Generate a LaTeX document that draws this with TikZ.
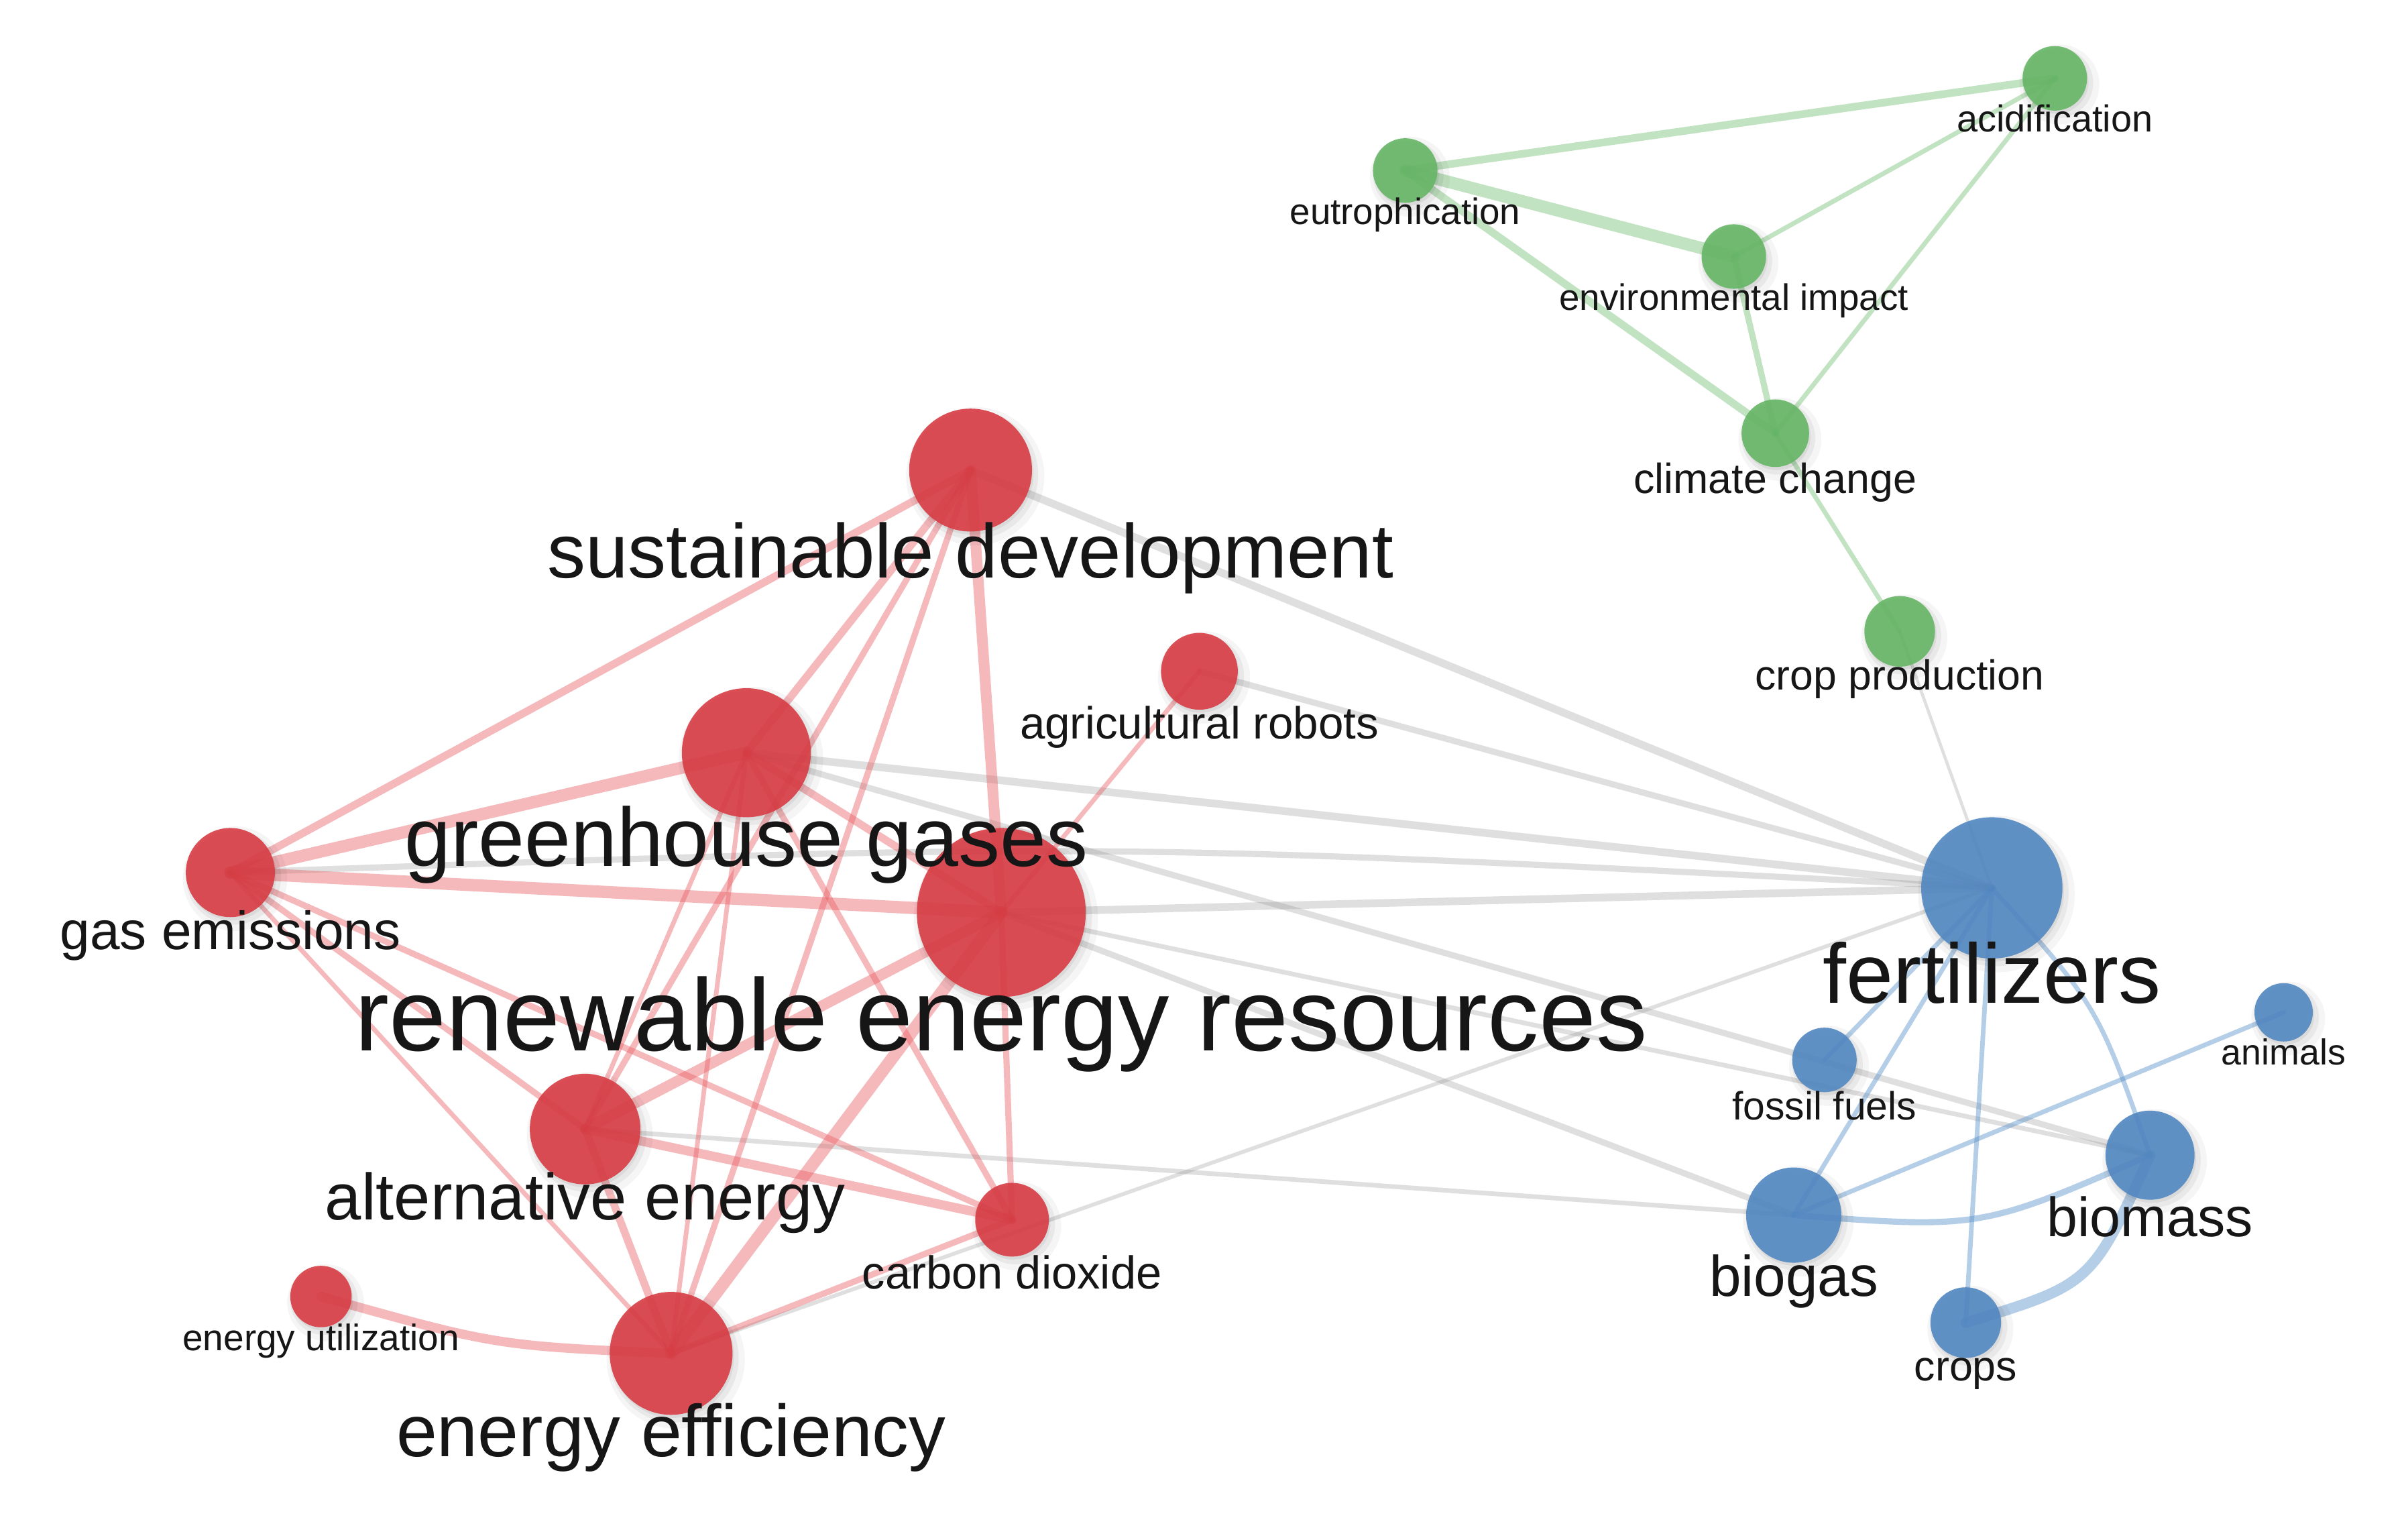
\documentclass[tikz,border=0pt]{standalone}
\usepackage{fontspec}
\setmainfont{Liberation Sans}
\pgfdeclarelayer{bgfill}
\pgfdeclarelayer{edges}
\pgfdeclarelayer{shadow}
\pgfdeclarelayer{fg}
\pgfsetlayers{bgfill,edges,shadow,main,fg}
\definecolor{nred}{RGB}{216,60,68}
\definecolor{ngreen}{RGB}{102,182,102}
\definecolor{nblue}{RGB}{82,136,194}
\definecolor{ered}{RGB}{232,90,96}
\definecolor{egreen}{RGB}{110,190,110}
\definecolor{eblue}{RGB}{80,140,200}
\definecolor{egray}{RGB}{150,150,150}
\definecolor{txt}{RGB}{22,22,22}
\tikzset{
  eRed/.style={draw=ered, draw opacity=0.42, line cap=round},
  eGreen/.style={draw=egreen, draw opacity=0.42, line cap=round},
  eBlue/.style={draw=eblue, draw opacity=0.42, line cap=round},
  eGray/.style={draw=egray, draw opacity=0.3, line cap=round},
  dot/.style={circle, inner sep=0pt, fill opacity=0.9},
  lbl/.style={text=txt, inner sep=0pt, anchor=base},
}
% name, x, y, r, colour, label, font size, baseline y
\newcommand\vnode[8]{%
  \begin{pgfonlayer}{shadow}
    \fill[black, opacity=0.04] (#2+3,#3+4) circle [radius={(#4+5)*1pt}];
    \fill[black, opacity=0.05] (#2+2,#3+3) circle [radius={(#4+2)*1pt}];
    \fill[black, opacity=0.06] (#2+1,#3+2) circle [radius={(#4)*1pt}];
  \end{pgfonlayer}
  \node[dot, fill=#5, minimum size={2*#4*1pt}] (#1) at (#2,#3) {};
  \begin{pgfonlayer}{fg}
    \node[lbl, font=\fontsize{#7}{#7}\selectfont] (#1-l) at (#2,#8) {#6};
  \end{pgfonlayer}
}
\begin{document}
\begin{tikzpicture}[x=1pt,y=-1pt]
\begin{pgfonlayer}{bgfill}
\fill[white] (0,0) rectangle (1568,997);
\end{pgfonlayer}
\useasboundingbox (0,0) rectangle (1568,997);
% red cluster
\vnode{sd}{632}{306}{40}{nred}{sustainable development}{49.8}{376}
\vnode{gh}{486}{490}{42}{nred}{greenhouse gases}{54.1}{564}
\vnode{gem}{150}{568}{29}{nred}{gas emissions}{35}{618}
\vnode{rer}{652}{594}{55}{nred}{renewable energy resources}{66.7}{684}
\vnode{ar}{781}{437}{25}{nred}{agricultural robots}{29.4}{481}
\vnode{ae}{381}{735}{36}{nred}{alternative energy}{42.6}{794}
\vnode{cd}{659}{794}{24}{nred}{carbon dioxide}{30}{839}
\vnode{eu}{209}{844}{20}{nred}{energy utilization}{24}{879}
\vnode{ee}{437}{881}{40}{nred}{energy efficiency}{47.8}{948}
% blue cluster
\vnode{fert}{1297}{578}{46}{nblue}{fertilizers}{55}{653}
\vnode{ff}{1188}{690}{21}{nblue}{fossil fuels}{25.7}{729}
\vnode{an}{1487}{659}{19}{nblue}{animals}{23.5}{693}
\vnode{bm}{1400}{752}{29}{nblue}{biomass}{36}{805}
\vnode{bg}{1168}{791}{31}{nblue}{biogas}{37.3}{844}
\vnode{cr}{1280}{861}{23}{nblue}{crops}{27.4}{899}
% green cluster
\vnode{ac}{1338}{51}{21}{ngreen}{acidification}{24.4}{86}
\vnode{eut}{915}{111}{21}{ngreen}{eutrophication}{23.9}{146}
\vnode{env}{1129}{167}{21}{ngreen}{environmental impact}{23.9}{202}
\vnode{cc}{1156}{282}{22}{ngreen}{climate change}{27.4}{321}
\vnode{cp}{1237}{411}{23}{ngreen}{crop production}{27.3}{449}
% control points of the curved links
\coordinate (k1) at (723,548);
\coordinate (k2) at (323,876);
\coordinate (k3) at (1366,655);
\coordinate (k4) at (1290,800);
\coordinate (k5) at (1362,836);
\begin{pgfonlayer}{edges}
% gray links between clusters
\draw[eGray, line width=5pt] (sd.center) -- (fert.center);
\draw[eGray, line width=4pt] (ar.center) -- (fert.center);
\draw[eGray, line width=5pt] (gh.center) -- (fert.center);
\draw[eGray, line width=4pt] (gem.center) .. controls (k1) .. (fert.center);
\draw[eGray, line width=5pt] (rer.center) -- (fert.center);
\draw[eGray, line width=2.5pt] (ee.center) -- (fert.center);
\draw[eGray, line width=4pt] (gh.center) -- (bm.center);
\draw[eGray, line width=3pt] (rer.center) -- (bm.center);
\draw[eGray, line width=4pt] (rer.center) -- (bg.center);
\draw[eGray, line width=3pt] (ae.center) -- (bg.center);
\draw[eGray, line width=2pt] (cp.center) -- (fert.center);
% red links
\draw[eRed, line width=7pt] (sd.center) -- (rer.center);
\draw[eRed, line width=5pt] (sd.center) -- (gem.center);
\draw[eRed, line width=5pt] (sd.center) -- (gh.center);
\draw[eRed, line width=4pt] (sd.center) -- (ae.center);
\draw[eRed, line width=4pt] (sd.center) -- (ee.center);
\draw[eRed, line width=8pt] (gh.center) -- (gem.center);
\draw[eRed, line width=8pt] (gem.center) -- (rer.center);
\draw[eRed, line width=4pt] (gem.center) -- (ae.center);
\draw[eRed, line width=3pt] (gem.center) -- (ee.center);
\draw[eRed, line width=4pt] (gem.center) -- (cd.center);
\draw[eRed, line width=5pt] (gh.center) -- (rer.center);
\draw[eRed, line width=3pt] (gh.center) -- (ae.center);
\draw[eRed, line width=3pt] (gh.center) -- (ee.center);
\draw[eRed, line width=4pt] (gh.center) -- (cd.center);
\draw[eRed, line width=7pt] (ae.center) -- (rer.center);
\draw[eRed, line width=6pt] (ae.center) -- (cd.center);
\draw[eRed, line width=5pt] (ae.center) -- (ee.center);
\draw[eRed, line width=8pt] (ee.center) -- (rer.center);
\draw[eRed, line width=4pt] (ee.center) -- (cd.center);
\draw[eRed, line width=6pt] (eu.center) .. controls (k2) .. (ee.center);
\draw[eRed, line width=4pt] (cd.center) -- (rer.center);
\draw[eRed, line width=3pt] (ar.center) -- (rer.center);
% green links
\draw[eGreen, line width=5pt] (eut.center) -- (ac.center);
\draw[eGreen, line width=8pt] (eut.center) -- (env.center);
\draw[eGreen, line width=5pt] (eut.center) -- (cc.center);
\draw[eGreen, line width=3pt] (env.center) -- (ac.center);
\draw[eGreen, line width=4pt] (env.center) -- (cc.center);
\draw[eGreen, line width=3pt] (ac.center) -- (cc.center);
\draw[eGreen, line width=3pt] (cc.center) -- (cp.center);
% blue links
\draw[eBlue, line width=3pt] (fert.center) -- (ff.center);
\draw[eBlue, line width=3pt] (fert.center) -- (bg.center);
\draw[eBlue, line width=3pt] (fert.center) -- (cr.center);
\draw[eBlue, line width=3pt] (fert.center) .. controls (k3) .. (bm.center);
\draw[eBlue, line width=3pt] (bg.center) -- (an.center);
\draw[eBlue, line width=4pt] (bg.center) .. controls (k4) .. (bm.center);
\draw[eBlue, line width=7pt] (cr.center) .. controls (k5) .. (bm.center);
\end{pgfonlayer}
\end{tikzpicture}
\end{document}
